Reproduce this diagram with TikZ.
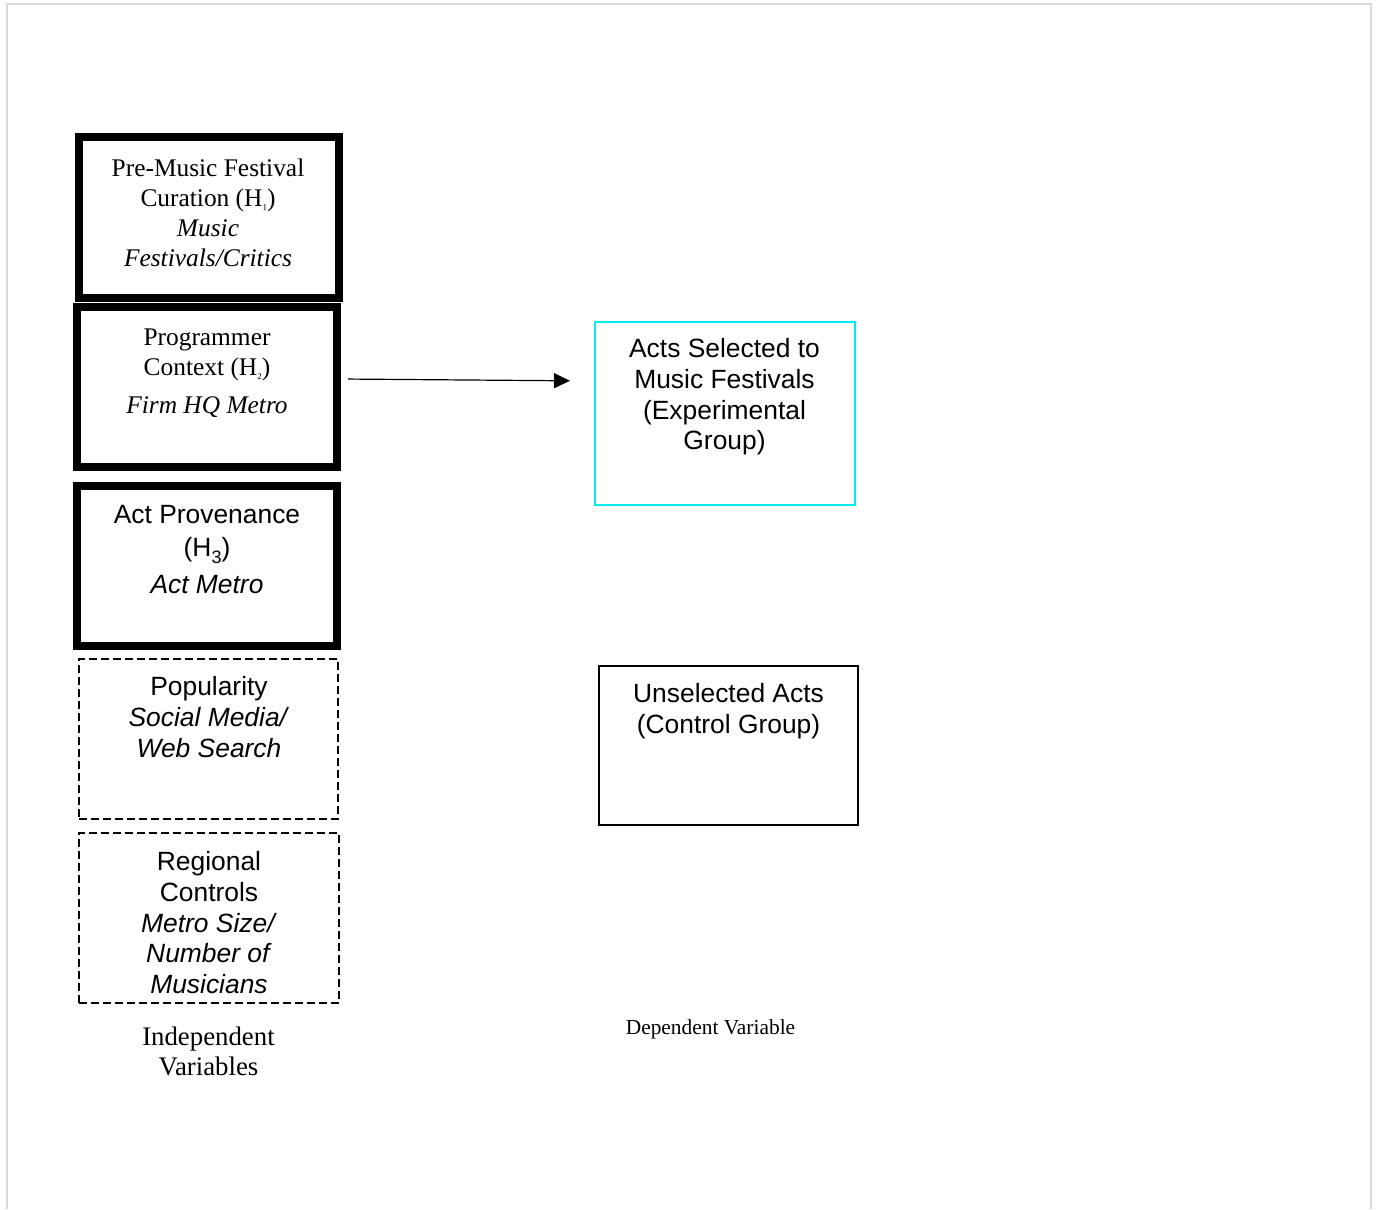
\documentclass[tikz,border=0pt]{standalone}
\usepackage{fontspec}
\setmainfont{Liberation Serif}
\setsansfont{Liberation Sans}
\usetikzlibrary{arrows.meta}
\definecolor{framegray}{RGB}{217,217,217}
\definecolor{groupcyan}{RGB}{0,238,238}

% tiny subscript used in the serif hypothesis labels
\newcommand\tinysub[1]{\raisebox{-0.35ex}{\fontsize{4.5}{5}\selectfont #1}}
% ordinary subscript for the sans labels
\newcommand\sanssub[1]{\raisebox{-0.5ex}{\fontsize{9}{9}\selectfont #1}}

\begin{document}
\begin{tikzpicture}[x=0.5pt,y=-0.5pt,
  heavybox/.style={draw=black, line width=4pt, inner sep=0pt},
  dashbox/.style={draw=black, line width=1.2pt, dash pattern=on 4pt off 2pt, inner sep=0pt},
  plainbox/.style={draw=black, line width=1pt, inner sep=0pt},
  cyanbox/.style={draw=groupcyan, line width=1.2pt, inner sep=0pt},
  seriftext/.style={font=\fontsize{12.7}{15.1}\selectfont, align=center, anchor=north, inner sep=0pt},
  sanstext/.style={font=\sffamily\fontsize{13.2}{15.4}\selectfont, align=center, anchor=north, inner sep=0pt},
  caption/.style={font=\fontsize{13.4}{15}\selectfont, align=center, anchor=north, inner sep=0pt},
  smallcaption/.style={font=\fontsize{10.7}{13}\selectfont, align=center, anchor=north, inner sep=0pt},
  link/.style={line width=0.6pt, -{Triangle[length=8pt,width=7.5pt]}}
]
\useasboundingbox (0,0) rectangle (1380,1209);

% page frame
\draw[framegray, line width=1.2pt] (7,1209) -- (7,4) -- (1371,4) -- (1371,1209);

% independent variables
\node[heavybox, minimum width=130pt, minimum height=80.3pt] (b1) at (208.5,217.3) {};
\node[heavybox, minimum width=130pt, minimum height=80pt] (b2) at (207,387) {};
\node[heavybox, minimum width=130pt, minimum height=80pt] (b3) at (207,566) {};
\node[dashbox, minimum width=129.5pt, minimum height=80pt] (b4) at (208.5,739) {};
\node[dashbox, minimum width=130pt, minimum height=85pt] (b5) at (209,918) {};

\node[seriftext] (t1) at (208,158) {Pre-Music Festival\\Curation (H\tinysub{1})\\\textit{Music}\\\textit{Festivals/Critics}};
\node[seriftext] (t2) at (207,328) {Programmer\\Context (H\tinysub{2})\\[4pt]\textit{Firm HQ Metro}};
\node[sanstext] (t3) at (207,505) {Act Provenance\\[1pt](H\sanssub{3})\\[3pt]\textit{Act Metro}};
\node[sanstext] (t4) at (209,676) {Popularity\\\textit{Social Media/}\\\textit{Web Search}};
\node[sanstext] (t5) at (209,851) {Regional\\Controls\\\textit{Metro Size/}\\\textit{Number of}\\\textit{Musicians}};

\node[caption] (indep) at (208.5,1026.5) {Independent\\Variables};

% dependent variable
\node[cyanbox, minimum width=130pt, minimum height=91.5pt] (sel) at (725,413.5) {};
\node[plainbox, minimum width=129.5pt, minimum height=79.5pt] (unsel) at (728.5,745.5) {};

\node[sanstext] (t6) at (724.5,338) {Acts Selected to\\Music Festivals\\(Experimental\\Group)};
\node[sanstext] (t7) at (728.5,683) {Unselected Acts\\(Control Group)};

\node[smallcaption] (dep) at (710.5,1019.5) {Dependent Variable};

% effect arrow
\draw[link, shorten <=3.5pt, shorten >=11.9pt] ([yshift=4pt]b2.east) -- ([yshift=16.25pt]sel.west);
\end{tikzpicture}
\end{document}
